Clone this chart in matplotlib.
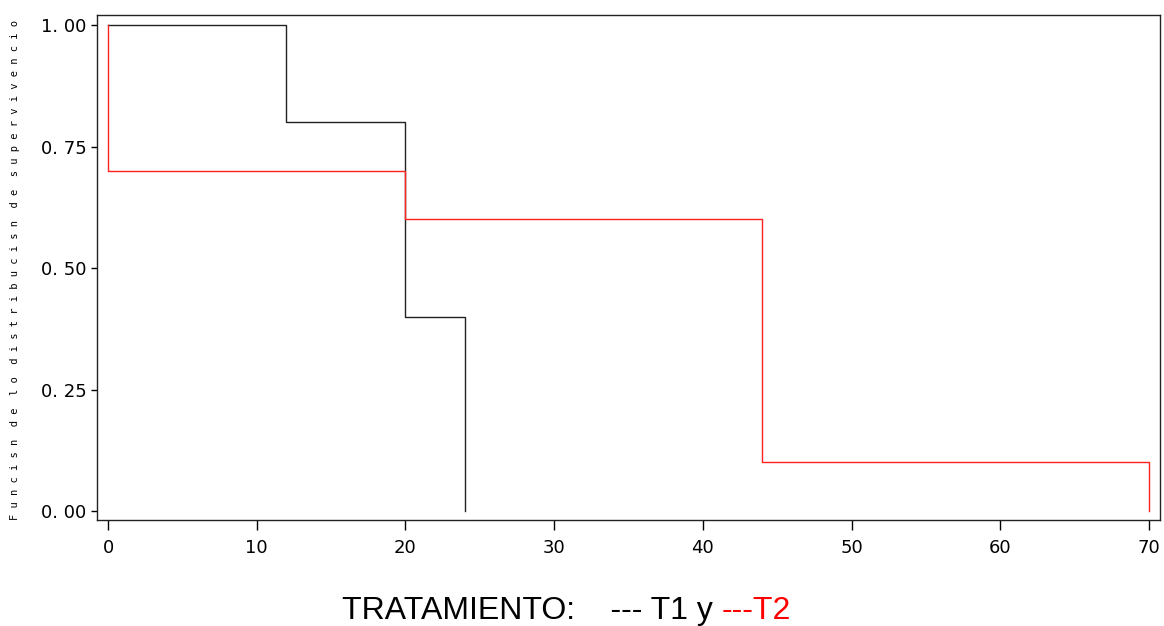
import matplotlib
matplotlib.use("Agg")
import matplotlib.pyplot as plt

# -------------------------
# Data (Kaplan-Meier style steps)
# -------------------------
t1_times = [0, 12, 20, 24]
t1_surv = [1.00, 0.80, 0.40, 0.00]

t2_times = [0, 0, 20, 44, 70]
t2_surv = [1.00, 0.70, 0.60, 0.10, 0.00]

x_ticks = [0, 10, 20, 30, 40, 50, 60, 70]
y_ticks = [0.00, 0.25, 0.50, 0.75, 1.00]
y_tick_labels = ["0. 00", "0. 25", "0. 50", "0. 75", "1. 00"]

y_words = ["Funcisn", "de", "lo", "distribucisn", "de", "supervivencio"]


def main():
    plt.rcParams["font.family"] = ["Liberation Sans", "DejaVu Sans"]

    fig = plt.figure(figsize=(11.64, 6.26), dpi=100)
    ax = fig.add_axes([97 / 1164, 1 - 520 / 626, (1160 - 97) / 1164, (520 - 15) / 626])

    ax.step(t1_times, t1_surv, where="post", color="#222222", lw=1.0)
    ax.step(t2_times, t2_surv, where="post", color="#ff2020", lw=1.0)

    ax.set_xlim(-0.74, 70.74)
    ax.set_ylim(-0.0185, 1.0206)

    ax.set_xticks(x_ticks)
    ax.set_yticks(y_ticks)
    ax.set_yticklabels(y_tick_labels)
    ax.tick_params(axis="x", direction="out", length=7, width=1, pad=7, labelsize=13)
    ax.tick_params(axis="y", direction="out", length=4.5, width=1, pad=3, labelsize=13)
    for lab in ax.get_xticklabels() + ax.get_yticklabels():
        lab.set_family("DejaVu Sans")
    for s in ax.spines.values():
        s.set_linewidth(1.0)
        s.set_color("#222222")

    # spaced-out y label, like the original output
    ylab = "  ".join(" ".join(w) for w in y_words)
    fig.text(15 / 1164, 1 - 270 / 626, ylab, rotation=90, ha="center", va="center",
             fontsize=7.5, family="DejaVu Sans Mono")

    # caption with black and red parts
    base_y = 1 - 619 / 626
    fig.text(713 / 1164, base_y, "TRATAMIENTO:    --- T1 y", ha="right", va="baseline",
             fontsize=23, color="black")
    fig.text(722 / 1164, base_y, "---T2", ha="left", va="baseline",
             fontsize=23, color="red")

    fig.savefig("out.png", dpi=100)


if __name__ == "__main__":
    main()
